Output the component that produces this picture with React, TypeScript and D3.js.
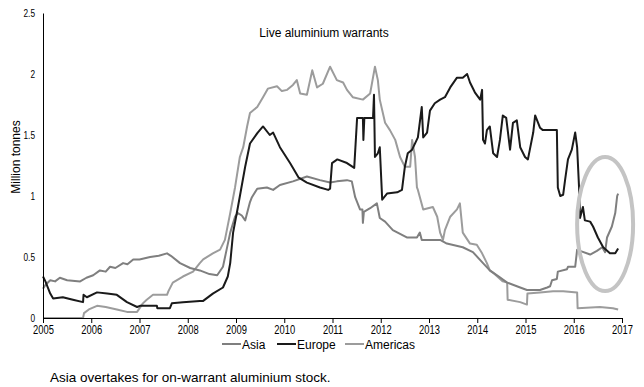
import * as d3 from "d3";
import { useEffect, useRef } from "react";

// [decimal year, million tonnes]
const asia: [number, number][] = [
  [2005.0, 0.24], [2005.05, 0.27], [2005.15, 0.31], [2005.25, 0.3], [2005.35, 0.33], [2005.5, 0.31],
  [2005.77, 0.3], [2005.9, 0.33], [2006.04, 0.35], [2006.18, 0.39], [2006.3, 0.38], [2006.39, 0.42],
  [2006.5, 0.41], [2006.66, 0.45], [2006.75, 0.44], [2006.87, 0.48], [2007.0, 0.48], [2007.22, 0.5],
  [2007.4, 0.51], [2007.57, 0.53], [2007.65, 0.51], [2007.84, 0.45], [2008.05, 0.41], [2008.25, 0.39],
  [2008.45, 0.36], [2008.61, 0.35], [2008.73, 0.42], [2008.8, 0.55], [2008.88, 0.7], [2008.98, 0.83],
  [2009.04, 0.86], [2009.12, 0.84], [2009.19, 0.8], [2009.29, 0.95], [2009.33, 0.99], [2009.44, 1.06],
  [2009.64, 1.07], [2009.77, 1.05], [2009.91, 1.09], [2010.18, 1.12], [2010.47, 1.16], [2010.74, 1.13],
  [2010.95, 1.11], [2011.09, 1.12], [2011.3, 1.13], [2011.4, 1.12], [2011.47, 0.99], [2011.57, 0.89],
  [2011.62, 0.89], [2011.63, 0.78], [2011.65, 0.87], [2011.78, 0.9], [2011.92, 0.94], [2011.98, 0.82],
  [2012.09, 0.79], [2012.25, 0.72], [2012.54, 0.66], [2012.75, 0.66], [2012.81, 0.7], [2012.85, 0.64],
  [2013.23, 0.64], [2013.37, 0.61], [2013.7, 0.58], [2013.91, 0.54], [2014.12, 0.45], [2014.26, 0.39],
  [2014.41, 0.35], [2014.62, 0.29], [2014.89, 0.25], [2015.03, 0.23], [2015.3, 0.23], [2015.45, 0.25],
  [2015.51, 0.26], [2015.55, 0.31], [2015.65, 0.32], [2015.67, 0.38], [2015.86, 0.4], [2015.88, 0.42],
  [2016.03, 0.42], [2016.07, 0.56], [2016.13, 0.55], [2016.34, 0.52], [2016.48, 0.55], [2016.59, 0.58],
  [2016.65, 0.54], [2016.69, 0.66], [2016.79, 0.75], [2016.86, 0.86], [2016.9, 1.0], [2016.92, 1.02],
];

const europe: [number, number][] = [
  [2005.0, 0.34], [2005.05, 0.3], [2005.15, 0.2], [2005.21, 0.16], [2005.41, 0.17], [2005.62, 0.15],
  [2005.83, 0.13], [2005.84, 0.19], [2005.91, 0.17], [2006.12, 0.21], [2006.33, 0.2], [2006.53, 0.19],
  [2006.74, 0.13], [2006.95, 0.09], [2007.01, 0.1], [2007.36, 0.1], [2007.37, 0.08], [2007.63, 0.08],
  [2007.67, 0.12], [2007.9, 0.13], [2008.25, 0.14], [2008.32, 0.14], [2008.52, 0.2], [2008.73, 0.25],
  [2008.83, 0.34], [2008.88, 0.45], [2008.94, 0.7], [2009.04, 0.91], [2009.19, 1.24], [2009.29, 1.43],
  [2009.45, 1.52], [2009.56, 1.57], [2009.7, 1.5], [2009.77, 1.52], [2009.91, 1.4], [2010.12, 1.27],
  [2010.3, 1.15], [2010.47, 1.11], [2010.74, 1.07], [2010.91, 1.05], [2010.95, 1.06], [2010.99, 1.27],
  [2011.1, 1.3], [2011.3, 1.27], [2011.45, 1.23], [2011.51, 1.64], [2011.63, 1.64], [2011.64, 1.46],
  [2011.66, 1.64], [2011.84, 1.64], [2011.86, 1.83], [2011.88, 1.32], [2011.94, 1.35], [2011.98, 1.4],
  [2012.03, 0.97], [2012.13, 1.02], [2012.34, 1.03], [2012.44, 1.05], [2012.5, 1.24], [2012.56, 1.35],
  [2012.65, 1.38], [2012.77, 1.48], [2012.85, 1.73], [2012.88, 1.48], [2012.96, 1.52], [2013.02, 1.7],
  [2013.12, 1.76], [2013.23, 1.79], [2013.33, 1.81], [2013.44, 1.89], [2013.58, 1.97], [2013.7, 1.97],
  [2013.79, 2.0], [2013.85, 1.93], [2013.95, 1.85], [2014.06, 1.79], [2014.1, 1.87], [2014.12, 1.46],
  [2014.16, 1.43], [2014.2, 1.54], [2014.26, 1.57], [2014.33, 1.35], [2014.41, 1.32], [2014.47, 1.46],
  [2014.53, 1.66], [2014.6, 1.64], [2014.68, 1.38], [2014.74, 1.6], [2014.82, 1.62], [2014.89, 1.4],
  [2014.99, 1.32], [2015.05, 1.3], [2015.16, 1.52], [2015.2, 1.66], [2015.3, 1.56], [2015.36, 1.54],
  [2015.65, 1.54], [2015.67, 1.07], [2015.72, 1.0], [2015.78, 1.01], [2015.82, 1.13], [2015.88, 1.3],
  [2015.96, 1.38], [2016.03, 1.52], [2016.07, 1.4], [2016.11, 1.07], [2016.13, 0.82], [2016.19, 0.91],
  [2016.23, 0.8], [2016.34, 0.79], [2016.4, 0.75], [2016.5, 0.66], [2016.61, 0.58], [2016.75, 0.53],
  [2016.86, 0.53], [2016.92, 0.57],
];

const americas: [number, number][] = [
  [2005.0, 0.0], [2005.83, 0.0], [2005.85, 0.04], [2005.95, 0.07], [2006.12, 0.1], [2006.3, 0.09],
  [2006.53, 0.07], [2006.74, 0.05], [2006.95, 0.05], [2007.07, 0.12], [2007.15, 0.15], [2007.28, 0.19],
  [2007.57, 0.19], [2007.6, 0.22], [2007.69, 0.29], [2007.9, 0.34], [2008.11, 0.38], [2008.25, 0.45],
  [2008.32, 0.48], [2008.52, 0.53], [2008.67, 0.56], [2008.77, 0.64], [2008.88, 0.86], [2008.98, 1.07],
  [2009.08, 1.32], [2009.15, 1.4], [2009.23, 1.57], [2009.29, 1.68], [2009.44, 1.73], [2009.56, 1.81],
  [2009.66, 1.88], [2009.85, 1.9], [2009.95, 1.86], [2010.06, 1.87], [2010.18, 1.91], [2010.26, 1.95],
  [2010.33, 1.84], [2010.47, 1.83], [2010.58, 2.03], [2010.68, 1.89], [2010.8, 1.92], [2010.95, 2.06],
  [2011.09, 1.95], [2011.22, 1.93], [2011.3, 1.87], [2011.42, 1.81], [2011.63, 1.79], [2011.78, 1.84],
  [2011.88, 2.06], [2011.94, 1.95], [2011.98, 1.79], [2012.09, 1.6], [2012.19, 1.54], [2012.3, 1.46],
  [2012.4, 1.32], [2012.5, 1.24], [2012.61, 1.24], [2012.65, 1.46], [2012.71, 1.32], [2012.75, 1.07],
  [2012.77, 1.05], [2012.88, 0.89], [2013.08, 0.91], [2013.17, 0.83], [2013.23, 0.7], [2013.29, 0.64],
  [2013.33, 0.72], [2013.44, 0.83], [2013.58, 0.89], [2013.64, 0.94], [2013.7, 0.7], [2013.85, 0.61],
  [2013.99, 0.6], [2014.1, 0.53], [2014.2, 0.45], [2014.26, 0.39], [2014.33, 0.37], [2014.53, 0.3],
  [2014.62, 0.29], [2014.63, 0.15], [2014.89, 0.13], [2015.03, 0.11], [2015.04, 0.2], [2015.3, 0.21],
  [2015.57, 0.22], [2015.78, 0.22], [2016.07, 0.21], [2016.08, 0.08], [2016.54, 0.09], [2016.81, 0.08],
  [2016.92, 0.07],
];

const years = d3.range(2005, 2018);
const yTicks = [0, 0.5, 1, 1.5, 2, 2.5];

const series = [
  { name: "Asia", data: asia, color: "#7f7f7f" },
  { name: "Europe", data: europe, color: "#1a1a1a" },
  { name: "Americas", data: americas, color: "#9c9c9c" },
];

const FONT = "'Liberation Sans', Arial, sans-serif";

// tick labels in the original are horizontally condensed
const squeeze = (sel: d3.Selection<any, any, any, any>, factor: number) => {
  sel.each(function () {
    const node = this as SVGTextElement;
    const w = node.getComputedTextLength();
    d3.select(node).attr("textLength", w * factor).attr("lengthAdjust", "spacingAndGlyphs");
  });
};

const App = () => {
  const svgRef = useRef<SVGSVGElement>(null);

  useEffect(() => {
    if (!svgRef.current) return;
    const svg = d3.select(svgRef.current);
    svg.selectAll("*").remove();

    const x = d3.scaleLinear().domain([2005, 2017]).range([43, 622]);
    const y = d3.scaleLinear().domain([0, 2.5]).range([318, 13]);

    // Title
    svg.append("text")
      .attr("x", 324).attr("y", 37)
      .attr("text-anchor", "middle")
      .attr("font-family", FONT).attr("font-size", 12)
      .text("Live aluminium warrants");

    // Y axis label
    svg.append("text")
      .attr("transform", "translate(19.5,157) rotate(-90)")
      .attr("text-anchor", "middle")
      .attr("font-family", FONT).attr("font-size", 12)
      .text("Million tonnes");

    // Lines (americas first so europe sits on top)
    const line = d3.line<[number, number]>()
      .x(d => x(d[0]))
      .y(d => y(d[1]));

    [series[2], series[0], series[1]].forEach(s => {
      svg.append("path")
        .datum(s.data)
        .attr("d", line)
        .attr("fill", "none")
        .attr("stroke", s.color)
        .attr("stroke-width", 2)
        .attr("stroke-linejoin", "round");
    });

    // Axes
    const xAxis = svg.append("g")
      .attr("transform", `translate(0,${y(0)})`)
      .call(d3.axisBottom(x).tickValues(years).tickFormat(d3.format("d")).tickSize(5).tickSizeOuter(0).tickPadding(2));
    xAxis.selectAll("text").attr("font-family", FONT).attr("font-size", 12).attr("fill", "#000");
    xAxis.selectAll("line, path").attr("stroke", "#000");
    squeeze(xAxis.selectAll("text"), 0.78);

    const yAxis = svg.append("g")
      .attr("transform", `translate(${x(2005)},0)`)
      .call(d3.axisLeft(y).tickValues(yTicks).tickFormat(d3.format("~g")).tickSize(0).tickSizeOuter(0).tickPadding(8));
    yAxis.selectAll("text").attr("font-family", FONT).attr("font-size", 11.5).attr("fill", "#000");
    yAxis.selectAll("path").attr("stroke", "#000");
    squeeze(yAxis.selectAll("text"), 0.72);

    // Highlight ellipse
    svg.append("ellipse")
      .attr("cx", x(2016.65)).attr("cy", y(0.77))
      .attr("rx", 28).attr("ry", 67)
      .attr("fill", "none")
      .attr("stroke", "#c4c4c4")
      .attr("stroke-width", 4);

    // Legend
    const legendX = [222, 277, 345];
    series.forEach((s, i) => {
      const g = svg.append("g").attr("transform", `translate(${legendX[i]},344)`);
      g.append("line").attr("x1", 0).attr("x2", 19).attr("y1", 0).attr("y2", 0)
        .attr("stroke", s.color).attr("stroke-width", 2);
      g.append("text").attr("x", 20).attr("y", 5)
        .attr("font-family", FONT).attr("font-size", 12)
        .text(s.name);
    });

    // Caption
    svg.append("text")
      .attr("x", 50).attr("y", 382)
      .attr("font-family", FONT).attr("font-size", 13.5)
      .text("Asia overtakes for on-warrant aluminium stock.");
  }, []);

  return (
    <div style={{ position: "absolute", left: 0, top: 0, width: 644, height: 387, background: "#fff" }}>
      <svg ref={svgRef} width={644} height={387} style={{ display: "block" }} />
    </div>
  );
};

export default App;
